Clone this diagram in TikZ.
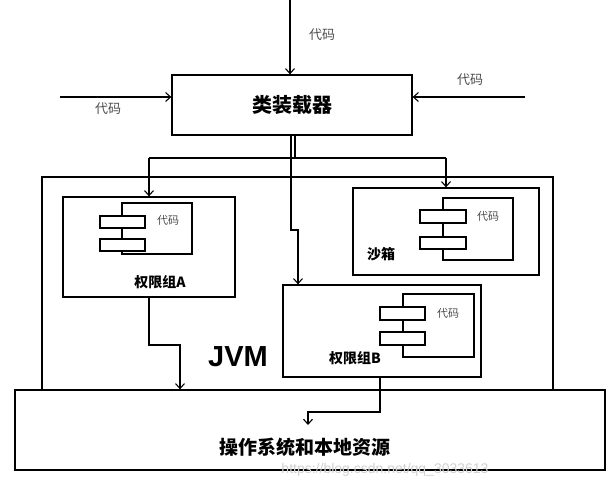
\documentclass[tikz,border=0pt]{standalone}
\usepackage{fontspec}
\usetikzlibrary{arrows.meta}
\setmainfont{Liberation Sans}
\newfontfamily\cjk{Noto Sans CJK SC}
\begin{document}
\begin{tikzpicture}[x=1pt,y=-1pt,
  bx/.style={draw,line width=1.3pt,inner sep=0pt},
  ln/.style={line width=1.1pt,-{Straight Barb[length=5pt,width=9pt]}},
  pl/.style={line width=1.1pt},
  sm/.style={font=\cjk\fontsize{11}{11}\selectfont,text=black!70},
  lb/.style={font=\cjk\bfseries\fontsize{14}{14}\selectfont}]
\useasboundingbox (0,0) rectangle (614,492);
\node[bx,minimum width=240pt,minimum height=60pt,font=\cjk\bfseries\fontsize{20}{20}\selectfont] (cl) at (292,105) {类装载器};
\coordinate (t0) at (290,0);
\draw[ln] (t0) -- (cl.north -| t0);
\node[sm,font=\cjk\fontsize{13}{13}\selectfont] (c1) at (322,35) {代码};
\coordinate (l0) at (60,97);
\draw[ln] (l0) -- (l0 -| cl.west);
\node[sm,font=\cjk\fontsize{13}{13}\selectfont] (c2) at (108,109) {代码};
\coordinate (r0) at (525,97);
\draw[ln] (r0) -- (r0 -| cl.east);
\node[sm,font=\cjk\fontsize{13}{13}\selectfont] (c3) at (470,80) {代码};
% JVM and OS
\node[bx,minimum width=511pt,minimum height=213pt] (jvm) at (297.5,283.5) {};
\node[bx,fill=white,minimum width=590pt,minimum height=80pt] (os) at (310,430) {};
\node[font=\cjk\bfseries\fontsize{19}{19}\selectfont] (ost) at (305,447) {操作系统和本地资源};
\node[text=black!18,font=\fontsize{14}{14}\selectfont] (wm) at (385,470) {https://blog.csdn.net/qq\_3033613};
\node[font=\bfseries\fontsize{29}{29}\selectfont] (jl) at (238,357) {JVM};
% box A
\node[bx,minimum width=172pt,minimum height=100pt] (A) at (149,247) {};
\draw[pl] (122,203) rectangle (192,254);
\draw[pl,fill=white] (100,216) rectangle (145,228) (100,239) rectangle (145,251);
\node[sm] at (168,220) {代码};
\node[lb] (Al) at (160,282) {权限组A};
% sandbox
\node[bx,minimum width=186pt,minimum height=87pt] (S) at (446,231.5) {};
\draw[pl] (443,198) rectangle (513,260);
\draw[pl,fill=white] (420,210) rectangle (466,223) (420,237) rectangle (466,249);
\node[sm] at (488,216) {代码};
\node[lb] (Sl) at (381,254) {沙箱};
% box B
\node[bx,minimum width=198pt,minimum height=92pt] (B) at (382,331) {};
\draw[pl] (403,294) rectangle (474,357);
\draw[pl,fill=white] (380,307) rectangle (425,320) (380,332) rectangle (425,345);
\node[sm] at (448,313) {代码};
\node[lb] (Bl) at (355,358) {权限组B};
% branches
\coordinate (j) at (295,158);
\draw[pl] (cl.south -| j) -- (j);
\draw[pl] (149,158) -- (446,158);
\draw[ln] (149,158) -- (A.north);
\draw[ln] (446,158) -- (S.north -| 446,0);
\draw[ln] (291,135) -- (291,230) -- (298,230) -- (B.north -| 298,0);
\draw[ln] (A.south) -- (149,345) -- (180,345) -- (os.north -| 180,0);
\draw[ln] (B.south -| 380,0) -- (380,412) -- (308,412) -- (308,425);
\end{tikzpicture}
\end{document}
